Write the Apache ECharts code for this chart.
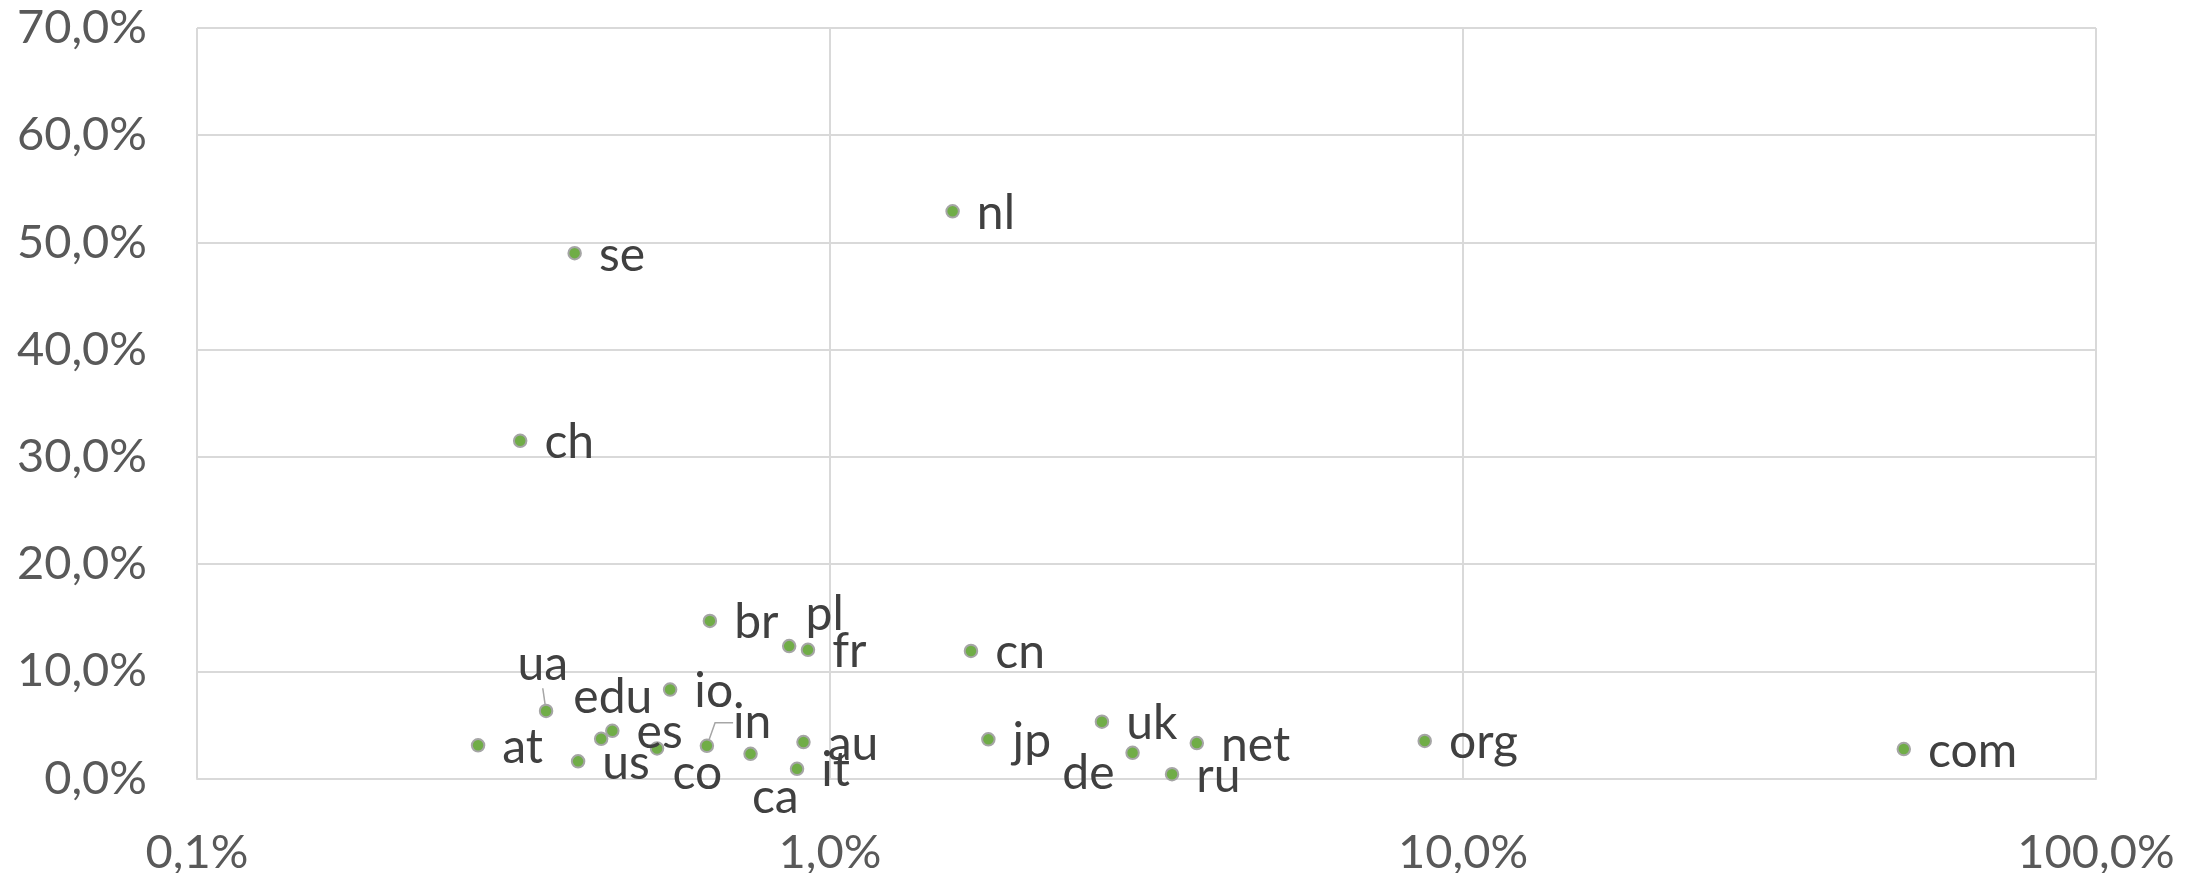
<!DOCTYPE html>
<html>
<head>
<meta charset="utf-8">
<script src="https://cdn.jsdelivr.net/npm/echarts@6/dist/echarts.min.js"></script>
<style>
  html, body { margin: 0; padding: 0; background: #ffffff; }
  #chart { width: 2206px; height: 873px; }
</style>
</head>
<body>
<div id="chart"></div>
<script>
// Domain names
const domains = ['nl','se','ch','br','pl','fr','cn','io','ua','edu','es','at','us','in','co','ca','au','it','jp','uk','de','net','ru','org','com'];
// Share on the horizontal (log) axis, in percent
const xShare = [1.562, 0.395, 0.324, 0.646, 0.862, 0.923, 1.670, 0.559, 0.356, 0.435, 0.453, 0.278, 0.400, 0.639, 0.533, 0.749, 0.908, 0.887, 1.779, 2.689, 3.006, 3.797, 3.470, 8.70, 49.7];
// Share on the vertical axis, in percent
const yShare = [52.9, 49.0, 31.5, 14.7, 12.35, 12.0, 11.9, 8.3, 6.3, 3.7, 4.45, 3.1, 1.6, 3.05, 2.8, 2.3, 3.4, 0.9, 3.65, 5.3, 2.4, 3.3, 0.4, 3.5, 2.75];
// Axis ticks
const xTicks = [0.1, 1, 10, 100];
const yTicks = [0, 10, 20, 30, 40, 50, 60, 70];

// Label anchors relative to the marker centre, for labels moved away from the default (presentation only)
const labelMove = {
  pl: [16.4, -31.7],
  ua: [-28.6, -46.7],
  edu: [-27.8, -41.7],
  co: [15.5, 24.7],
  in: [26.2, -23],
  ca: [1.4, 44],
  de: [-70.2, 20.3]
};
const leaderLines = { ua: 0, in: 18 };
const defaultLabelDy = 2;

function fmtPct(v) {
  const n = Number(Number(v).toPrecision(6));
  return n.toFixed(1).replace('.', ',') + '%';
}

const FONT = 'Lato';
const pts = domains.map((d, i) => {
  const item = { name: d, value: [xShare[i], yShare[i]] };
  if (leaderLines[d] !== undefined) item.labelLine = { show: true, length2: leaderLines[d] };
  return item;
});

const chart = echarts.init(document.getElementById('chart'), null, { renderer: 'canvas' });
chart.setOption({
  animation: false,
  backgroundColor: '#ffffff',
  grid: { left: 197, right: 110, top: 28, bottom: 94.5, containLabel: false, outerBoundsMode: 'none' },
  xAxis: {
    type: 'log',
    logBase: 10,
    min: xTicks[0],
    max: xTicks[xTicks.length - 1],
    axisLine: { show: true, lineStyle: { color: '#d9d9d9', width: 2 } },
    axisTick: { show: false },
    minorTick: { show: false },
    splitLine: { show: true, lineStyle: { color: '#d9d9d9', width: 2 } },
    axisLabel: {
      formatter: fmtPct,
      color: '#595959',
      fontFamily: FONT,
      fontSize: 47,
      margin: 51
    }
  },
  yAxis: {
    type: 'value',
    min: yTicks[0],
    max: yTicks[yTicks.length - 1],
    interval: 10,
    axisLine: { show: false },
    axisTick: { show: false },
    splitLine: { show: true, lineStyle: { color: '#d9d9d9', width: 2 } },
    axisLabel: {
      formatter: fmtPct,
      color: '#595959',
      fontFamily: FONT,
      fontSize: 47,
      margin: 50
    }
  },
  series: [{
    type: 'scatter',
    data: pts,
    symbol: 'circle',
    symbolSize: 12.5,
    itemStyle: { color: '#70AD47', borderColor: '#A5A5A5', borderWidth: 2, opacity: 1 },
    label: {
      show: true,
      position: 'right',
      distance: 17,
      formatter: p => p.name,
      color: '#404040',
      fontFamily: FONT,
      fontSize: 48
    },
    labelLayout: function (params) {
      const d = domains[params.dataIndex];
      const m = labelMove[d];
      if (!m) return { dy: defaultLabelDy };
      const cx = params.rect.x + params.rect.width / 2;
      const cy = params.rect.y + params.rect.height / 2;
      return { x: cx + m[0], y: cy + m[1], align: 'left', verticalAlign: 'middle' };
    },
    labelLine: { show: false, lineStyle: { color: '#a6a6a6', width: 1.5 } },
    emphasis: { disabled: true }
  }]
});
</script>
</body>
</html>
